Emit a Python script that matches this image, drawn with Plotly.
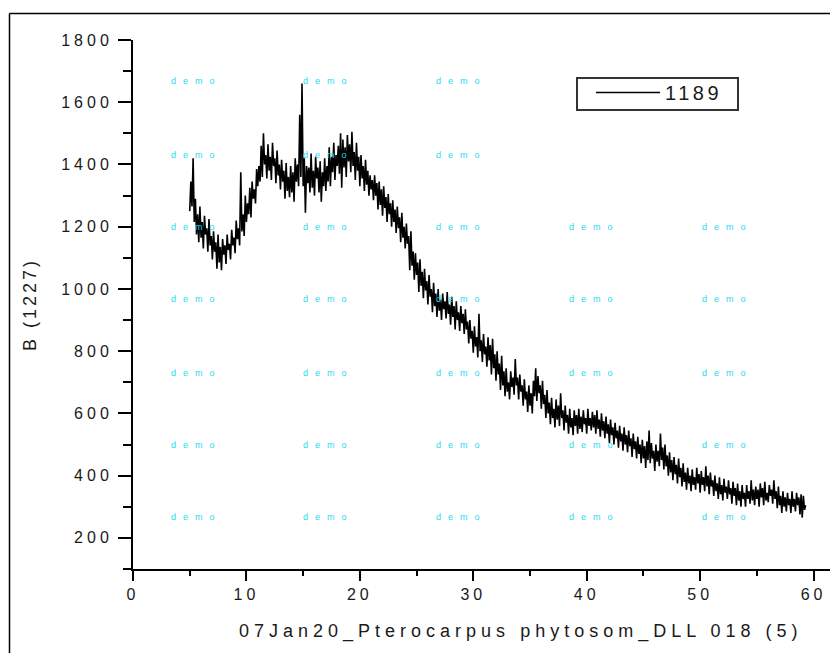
import plotly.graph_objects as go

# ---------------- data ----------------
two_theta_start = 5.0
two_theta_step = 0.1
intensity = [
    # 5.0 - 5.9
    1250, 1345, 1265, 1420, 1215, 1290, 1175, 1240, 1150, 1265,
    # 6.0 - 6.9
    1165, 1215, 1130, 1235, 1175, 1195, 1120, 1225, 1140, 1170,
    # 7.0 - 7.9
    1095, 1185, 1120, 1150, 1065, 1175, 1085, 1135, 1060, 1160,
    # 8.0 - 8.9
    1110, 1140, 1080, 1175, 1125, 1145, 1095, 1190, 1140, 1165,
    # 9.0 - 9.9
    1115, 1220, 1160, 1195, 1140, 1375, 1185, 1240, 1170, 1300,
    # 10.0 - 10.9
    1215, 1275, 1240, 1325, 1230, 1345, 1290, 1320, 1275, 1385,
    # 11.0 - 11.9
    1330, 1395, 1345, 1460, 1360, 1500, 1400, 1430, 1355, 1465,
    # 12.0 - 12.9
    1380, 1425, 1350, 1470, 1395, 1420, 1340, 1445, 1365, 1400,
    # 13.0 - 13.9
    1320, 1415, 1345, 1380, 1290, 1405, 1315, 1360, 1295, 1395,
    # 14.0 - 14.9
    1310, 1375, 1280, 1420, 1345, 1400, 1330, 1560, 1360, 1660,
    # 15.0 - 15.9
    1330, 1420, 1245, 1395, 1340, 1390, 1310, 1435, 1325, 1380,
    # 16.0 - 16.9
    1300, 1425, 1355, 1390, 1310, 1410, 1280, 1375, 1330, 1420,
    # 17.0 - 17.9
    1315, 1395, 1345, 1455, 1330, 1425, 1375, 1470, 1350, 1430,
    # 18.0 - 18.9
    1395, 1460, 1370, 1500, 1325, 1480, 1390, 1455, 1360, 1495,
    # 19.0 - 19.9
    1410, 1465, 1375, 1505, 1395, 1440, 1350, 1470, 1380, 1425,
    # 20.0 - 20.9
    1330, 1430, 1355, 1395, 1315, 1415, 1335, 1380, 1300, 1365,
    # 21.0 - 21.9
    1320, 1350, 1285, 1365, 1300, 1340, 1255, 1345, 1270, 1320,
    # 22.0 - 22.9
    1235, 1330, 1260, 1295, 1215, 1305, 1240, 1275, 1200, 1285,
    # 23.0 - 23.9
    1215, 1255, 1180, 1265, 1195, 1230, 1150, 1245, 1165, 1200,
    # 24.0 - 24.9
    1130, 1210, 1145, 1170, 1060, 1185, 1075, 1120, 1030, 1115,
    # 25.0 - 25.9
    1045, 1085, 990, 1095, 1010, 1055, 970, 1065, 995, 1025,
    # 26.0 - 26.9
    950, 1045, 975, 1000, 925, 1020, 945, 985, 910, 1000,
    # 27.0 - 27.9
    930, 965, 900, 985, 935, 960, 905, 990, 920, 950,
    # 28.0 - 28.9
    885, 975, 910, 945, 870, 960, 900, 925, 865, 945,
    # 29.0 - 29.9
    890, 920, 855, 935, 870, 895, 825, 900, 840, 865,
    # 30.0 - 30.9
    795, 880, 815, 845, 780, 920, 800, 835, 765, 855,
    # 31.0 - 31.9
    790, 815, 750, 845, 770, 820, 725, 840, 745, 790,
    # 32.0 - 32.9
    705, 800, 725, 760, 675, 785, 690, 735, 655, 745,
    # 33.0 - 33.9
    670, 700, 645, 735, 685, 715, 660, 775, 690, 715,
    # 34.0 - 34.9
    645, 725, 670, 690, 625, 710, 645, 670, 605, 690,
    # 35.0 - 35.9
    625, 665, 600, 705, 655, 745, 640, 720, 665, 690,
    # 36.0 - 36.9
    615, 705, 630, 660, 585, 675, 600, 635, 565, 650,
    # 37.0 - 37.9
    585, 615, 555, 645, 580, 625, 560, 665, 585, 610,
    # 38.0 - 38.9
    545, 625, 570, 595, 535, 615, 555, 585, 530, 610,
    # 39.0 - 39.9
    560, 595, 535, 615, 550, 590, 540, 610, 565, 585,
    # 40.0 - 40.9
    535, 615, 560, 585, 545, 605, 555, 595, 535, 610,
    # 41.0 - 41.9
    550, 580, 525, 600, 545, 575, 520, 590, 535, 565,
    # 42.0 - 42.9
    505, 580, 530, 555, 500, 570, 520, 545, 490, 560,
    # 43.0 - 43.9
    510, 535, 480, 555, 500, 530, 475, 545, 495, 520,
    # 44.0 - 44.9
    460, 535, 485, 510, 455, 525, 470, 500, 440, 515,
    # 45.0 - 45.9
    455, 495, 425, 510, 450, 545, 440, 505, 455, 480,
    # 46.0 - 46.9
    415, 500, 445, 480, 430, 535, 450, 490, 420, 500,
    # 47.0 - 47.9
    430, 465, 400, 475, 410, 450, 385, 460, 405, 435,
    # 48.0 - 48.9
    375, 455, 395, 425, 365, 440, 380, 410, 355, 425,
    # 49.0 - 49.9
    375, 400, 350, 420, 370, 395, 355, 425, 375, 405,
    # 50.0 - 50.9
    345, 415, 370, 395, 350, 430, 365, 400, 340, 410,
    # 51.0 - 51.9
    365, 385, 335, 400, 350, 375, 325, 395, 340, 370,
    # 52.0 - 52.9
    320, 390, 345, 365, 325, 385, 340, 360, 310, 380,
    # 53.0 - 53.9
    335, 360, 305, 375, 320, 350, 300, 370, 325, 345,
    # 54.0 - 54.9
    300, 370, 325, 350, 310, 385, 320, 355, 305, 365,
    # 55.0 - 55.9
    325, 355, 300, 375, 330, 360, 305, 380, 320, 345,
    # 56.0 - 56.9
    315, 370, 335, 355, 310, 385, 325, 350, 295, 365,
    # 57.0 - 57.9
    305, 335, 280, 350, 300, 330, 285, 345, 305, 325,
    # 58.0 - 58.9
    280, 350, 300, 325, 285, 345, 305, 330, 275, 340,
    # 59.0 - 59.3
    265, 335, 290, 305,
]
two_theta = [round(two_theta_start + i * two_theta_step, 2) for i in range(len(intensity))]

series_name = "1189"
x_title = "07Jan20_Pterocarpus phytosom_DLL 018 (5)"
y_title = "B (1227)"
watermark = "demo"

x_tick_values = [0, 10, 20, 30, 40, 50, 60]
x_tick_labels = ["0", "10", "20", "30", "40", "50", "60"]
x_minor_ticks = [5, 15, 25, 35, 45, 55]
y_tick_values = [200, 400, 600, 800, 1000, 1200, 1400, 1600, 1800]
y_tick_labels = ["200", "400", "600", "800", "1000", "1200", "1400", "1600", "1800"]
y_minor_ticks = [100, 300, 500, 700, 900, 1100, 1300, 1500, 1700]

# ---------------- layout geometry (pixels) ----------------
W, H = 830, 653
ML, MR, MT, MB = 133, 0, 40, 84
PW, PH = W - ML - MR, H - MT - MB
X_MAX = PW / 11.343


def px_to_paper_x(px):
    return (px - ML) / PW


def px_to_paper_y(py):
    return (H - MB - py) / PH


def spaced(text, ls):
    return '<span style="letter-spacing:%spx">%s</span>' % (ls, text)


FONT = "Liberation Sans, Arial, sans-serif"

fig = go.Figure()
fig.add_trace(go.Scatter(
    x=two_theta, y=intensity, mode="lines", name=spaced(series_name, 3.5),
    line=dict(color="black", width=1.6),
))

# watermark grid
wm_cols = [196, 328, 461, 594, 727]
wm_rows = [81, 155, 227, 299, 373, 445, 517]
annotations = []
for ri, ry in enumerate(wm_rows):
    cols = wm_cols[:3] if ri < 2 else wm_cols
    for cx in cols:
        annotations.append(dict(
            x=px_to_paper_x(cx), y=px_to_paper_y(ry), xref="paper", yref="paper",
            text=spaced(watermark, 7), showarrow=False, xanchor="center", yanchor="middle",
            font=dict(family=FONT, size=9, color="#22dcf2"),
        ))

# x axis title (centred as in the reference)
annotations.append(dict(
    x=px_to_paper_x(521), y=px_to_paper_y(631), xref="paper", yref="paper",
    text=spaced(x_title, 5), showarrow=False, xanchor="center", yanchor="middle",
    font=dict(family=FONT, size=18, color="#1a1a1a"),
))

shapes = [
    # outer frame
    dict(type="line", xref="paper", yref="paper",
         x0=px_to_paper_x(9.5), y0=px_to_paper_y(13.5), x1=px_to_paper_x(835), y1=px_to_paper_y(13.5),
         line=dict(color="black", width=1.5)),
    dict(type="line", xref="paper", yref="paper",
         x0=px_to_paper_x(9.5), y0=px_to_paper_y(13.5), x1=px_to_paper_x(9.5), y1=px_to_paper_y(660),
         line=dict(color="black", width=1.5)),
    # legend box
    dict(type="rect", xref="paper", yref="paper", layer="above",
         x0=px_to_paper_x(577), y0=px_to_paper_y(110), x1=px_to_paper_x(738), y1=px_to_paper_y(78),
         line=dict(color="#333333", width=2), fillcolor="white"),
]

fig.update_layout(
    width=W, height=H, autosize=False,
    margin=dict(l=ML, r=MR, t=MT, b=MB, pad=0),
    paper_bgcolor="white", plot_bgcolor="white",
    font=dict(family=FONT, color="#1a1a1a"),
    showlegend=True,
    legend=dict(
        x=px_to_paper_x(591), y=px_to_paper_y(73), xanchor="left", yanchor="top",
        bgcolor="rgba(0,0,0,0)", borderwidth=0,
        font=dict(family=FONT, size=20, color="#1a1a1a"),
        itemwidth=64, tracegroupgap=0,
    ),
    annotations=annotations,
    shapes=shapes,
    xaxis=dict(
        range=[0, X_MAX], showgrid=False, zeroline=False,
        showline=True, linecolor="black", linewidth=2,
        ticks="outside", ticklen=10, tickwidth=2, tickcolor="black",
        tickmode="array", tickvals=x_tick_values,
        ticktext=[spaced(t, 4) for t in x_tick_labels],
        tickfont=dict(family=FONT, size=16, color="#1a1a1a"),
        minor=dict(tickmode="array", tickvals=x_minor_ticks, ticks="outside",
                   ticklen=5, tickwidth=2, tickcolor="black", showgrid=False),
    ),
    yaxis=dict(
        range=[100, 1800], showgrid=False, zeroline=False,
        showline=True, linecolor="black", linewidth=2,
        ticks="outside", ticklen=13, tickwidth=2, tickcolor="black",
        tickmode="array", tickvals=y_tick_values,
        ticktext=[spaced(t, 4) for t in y_tick_labels],
        tickfont=dict(family=FONT, size=16, color="#1a1a1a"),
        ticklabelstandoff=2,
        minor=dict(tickmode="array", tickvals=y_minor_ticks, ticks="outside",
                   ticklen=8, tickwidth=2, tickcolor="black", showgrid=False),
        title=dict(text=spaced(y_title, 3), font=dict(family=FONT, size=18, color="#1a1a1a"),
                   standoff=20),
    ),
)

fig.write_html("out.html")
